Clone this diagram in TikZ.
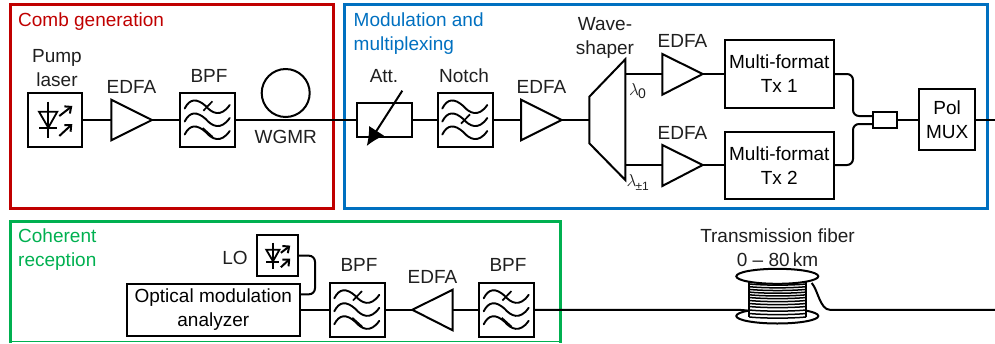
\documentclass[tikz,border=0pt]{standalone}
\usepackage{fontspec}
\setmainfont{Liberation Sans}
\usetikzlibrary{arrows.meta,calc}
\definecolor{cred}{RGB}{192,0,0}
\definecolor{cblue}{RGB}{0,112,192}
\definecolor{cgreen}{RGB}{0,176,80}
\tikzset{
  lbl/.style={inner sep=0pt,align=center,font=\fontsize{19}{24}\selectfont,text=black!88},
  head/.style={lbl,align=left,anchor=north west},
  devbox/.style={draw,line width=2pt,inner sep=0pt,outer sep=0pt,minimum width=54.5pt,minimum height=54pt,align=center,font=\fontsize{19}{24}\selectfont},
  wire/.style={line width=2pt},
  frame/.style={draw,line width=3pt},
  amp/.style={draw,line width=2pt,line join=miter},
  wave/.pic={
    \foreach \d in {-13,0,13}{
      \draw[line width=1.9pt,line cap=round] (-23,\d+1.5) .. controls (-18,\d-8.5) and (-11,\d-9) .. (-2,\d-1) .. controls (4,\d+6) and (13,\d+11) .. (22,\d-2);
    }
  },
  crossa/.pic={\draw[line width=1.7pt] (-4.3,3.7) -- (4.7,-5.7);},
  crossb/.pic={\draw[line width=1.7pt] (-5,-5) -- (5,4);},
  bpf/.pic={
    \pic {wave};
    \pic at (0,-13) {crossa};
    \pic at (0,13) {crossb};
  },
  notchf/.pic={
    \pic {wave};
    \pic at (0,0) {crossa};
  },
  laser/.pic={
    \draw[line width=1.8pt,line join=miter] (-16,-8.3) -- (2.3,-8.3) -- (-6.7,7.7) -- cycle;
    \draw[line width=1.8pt] (-6.7,-18.3) -- (-6.7,18.3) (-16,8.3) -- (2.3,8.3);
    \draw[line width=2pt,-{Straight Barb[length=5pt,width=9pt]}] (4.3,-4) -- (17.3,-14);
    \draw[line width=2pt,-{Straight Barb[length=5pt,width=9pt]}] (4.3,16) -- (17.3,4);
  }
}
\begin{document}
\begin{tikzpicture}[x=1pt,y=-1pt]
\useasboundingbox (0,0) rectangle (995,343);
% frames
\draw[frame,cred] (10.5,4.5) rectangle (333,208);
\draw[frame,cblue] (344.5,4.5) rectangle (987,208);
\draw[frame,cgreen] (10.5,343) -- (10.5,221.5) -- (560,221.5) -- (560,343);
\draw[cgreen,line width=1.5pt] (10.5,341.5) -- (560,341.5);
% headings
\node[head,text=cred] (h1) at (18,13) {Comb generation};
\node[head,text=cblue] (h2) at (353.5,12.5) {Modulation and\\multiplexing};
\node[head,text=cgreen] (h3) at (18,229) {Coherent\\reception};
% top row devices
\node[devbox] (laser) at (55,120) {};
\pic at (55,120) {laser};
\node[lbl] (tl) at (57,68) {Pump\\laser};
\coordinate (e1in) at (111.3,120);
\coordinate (e1out) at (152,120);
\draw[amp] (111.3,99.7) -- (152,120) -- (111.3,140.3) -- cycle;
\node[lbl] (te1) at (131.5,87) {EDFA};
\node[devbox] (bpf0) at (207.7,120) {};
\pic at (207.7,120) {bpf};
\node[lbl] (tb0) at (209,76) {BPF};
\node[draw,circle,line width=2pt,minimum size=48pt,inner sep=0pt,outer sep=0pt] (wgmr) at (285.7,93) {};
\node[lbl] (tw) at (285.7,137) {WGMR};
\node[draw,line width=2pt,minimum width=55pt,minimum height=33.7pt,inner sep=0pt,outer sep=0pt] (att) at (384.2,120) {};
\node[lbl] (ta) at (384,76) {Att.};
\coordinate (aa) at (402.3,90.7);
\coordinate (ab) at (366.7,146);
\draw[line width=2pt,-{Latex[length=18pt,width=18pt]}] (aa) -- (ab);
\node[devbox] (notch) at (465.3,120) {};
\pic at (465.3,120) {notchf};
\node[lbl] (tn) at (464,76) {Notch};
\coordinate (e2in) at (521,120);
\coordinate (e2out) at (561.7,120);
\draw[amp] (521,99.7) -- (561.7,120) -- (521,140.3) -- cycle;
\node[lbl] (te2) at (541.5,87) {EDFA};
\coordinate (wsin) at (589.3,120);
\coordinate (ws0) at (625.3,74);
\coordinate (ws1) at (625.3,165);
\draw[amp] (589.3,96.7) -- (625.3,59.3) -- (625.3,180) -- (589.3,143.3) -- cycle;
\node[lbl] (tws) at (605,38) {Wave-\\shaper};
\node[lbl,anchor=west] (l0) at (629,91) {$\mathit{\lambda}$\kern-1pt\raisebox{-3pt}{\fontsize{14}{16}\selectfont 0}};
\node[lbl,anchor=west] (l1) at (626.5,182) {$\mathit{\lambda}$\kern-1pt\raisebox{-4pt}{\fontsize{12}{14}\selectfont ±1}};
\coordinate (e3in) at (662.3,74);
\coordinate (e3out) at (702.7,74);
\draw[amp] (662.3,54) -- (702.7,74) -- (662.3,94.7) -- cycle;
\node[lbl] (te3) at (682.5,41) {EDFA};
\coordinate (e4in) at (662.3,165);
\coordinate (e4out) at (702.7,165);
\draw[amp] (662.3,145) -- (702.7,165) -- (662.3,186) -- cycle;
\node[lbl] (te4) at (682.5,133) {EDFA};
\node[devbox,minimum width=109.3pt,minimum height=67.7pt] (tx1) at (779.3,73.8) {Multi-format\\Tx 1};
\node[devbox,minimum width=109.3pt,minimum height=67.7pt] (tx2) at (779.3,165.5) {Multi-format\\Tx 2};
\node[devbox,minimum width=24pt,minimum height=16pt] (cpl) at (885.3,120) {};
\node[devbox,minimum width=55.7pt,minimum height=61pt] (mux) at (947.2,119.8) {Pol\\MUX};
\coordinate (oute) at (995,120);
% top wires
\draw[wire] (laser.east) -- (e1in) (e1out) -- (bpf0.west) (bpf0.east) -- (att.west);
\draw[wire] (att.east) -- (notch.west) (notch.east) -- (e2in) (e2out) -- (wsin);
\draw[wire] (ws0) -- (e3in) (ws1) -- (e4in) (e3out) -- (tx1.west|-e3out) (e4out) -- (tx2.west|-e4out);
\draw[wire,rounded corners=6pt] (tx1.east|-e3out) -- (853,74) -- (853,116) -- (873.3,116);
\draw[wire,rounded corners=6pt] (tx2.east|-e4out) -- (853,165) -- (853,124) -- (873.3,124);
\draw[wire] (cpl.east) -- (mux.west|-cpl.east);
\draw[wire] (mux.east|-oute) -- (oute);
% bottom row
\node[devbox,minimum width=41pt,minimum height=41.3pt] (lo) at (277.8,255.7) {};
\pic[scale=0.72] at (277.8,255.7) {laser};
\node[lbl] (tlo) at (235,258) {LO};
\node[devbox,minimum width=173.3pt,minimum height=51.4pt] (oma) at (213.3,310) {Optical modulation\\analyzer};
\node[devbox] (bpf1) at (357.3,309.8) {};
\pic at (357.3,309.8) {bpf};
\node[lbl] (tb1) at (359,265) {BPF};
\coordinate (e5out) at (412.3,309.8);
\coordinate (e5in) at (452.7,309.8);
\draw[amp] (452.7,289.7) -- (412.3,309.8) -- (452.7,330.3) -- cycle;
\node[lbl] (te5) at (432.5,277) {EDFA};
\node[devbox] (bpf2) at (506.7,309.8) {};
\pic at (506.7,309.8) {bpf};
\node[lbl] (tb2) at (508,265) {BPF};
\draw[wire,rounded corners=6pt] (lo.east) -- (315,255.7) -- (315,294.3) -- (300,294.3);
\draw[wire] (oma.east|-bpf1.west) -- (bpf1.west) (bpf1.east) -- (e5out) (e5in) -- (bpf2.west);
% spool
\node[lbl] (tf) at (777.5,247.5) {Transmission fiber\\0 -- 80\,km};
\coordinate (spl) at (750,311);
\coordinate (spr) at (811.7,283);
\coordinate (outb) at (995,309.8);
\draw[wire] (bpf2.east) -- (733,309.8) .. controls (740,309.8) and (744,310) .. (spl);
\draw[line width=2pt] (777.3,316) ellipse (41pt and 7.5pt);
\fill[white] (749.3,283) rectangle (806,317);
\foreach \yy in {284,286.7,289.4,292.1,294.8,297.5,300.5,303.5,306.5,310,313.5,317}{
  \draw[line width=1.5pt] (749.3,\yy) .. controls (765,\yy+1.5) and (790,\yy+1.5) .. (806,\yy);
}
\draw[line width=2pt] (749.3,282) -- (749.3,316.5) (806,282) -- (806,316.5);
\draw[line width=2pt,fill=white] (777.3,276.3) ellipse (41pt and 7.5pt);
\draw[wire] (spr) .. controls (818,290) and (820,309.8) .. (830,309.8) -- (outb);
\end{tikzpicture}
\end{document}
